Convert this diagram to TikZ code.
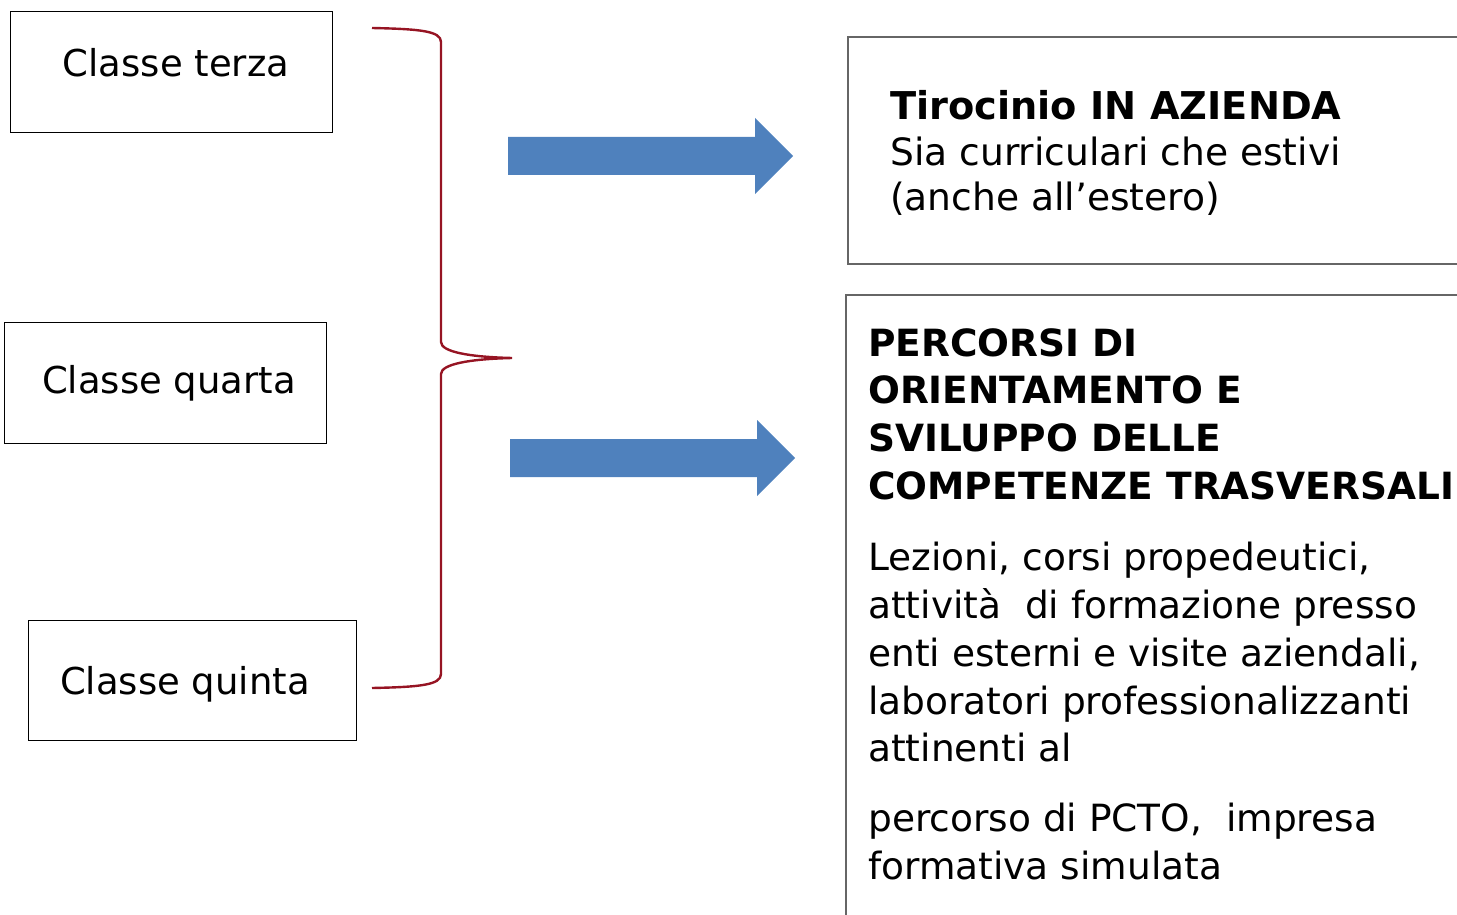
\documentclass[tikz,border=0pt]{standalone}
\usepackage{fontspec}
\setmainfont{DejaVu Sans}
\begin{document}
\begin{tikzpicture}[x=1pt,y=-1pt,
  lbox/.style={draw=black,line width=1pt},
  rbox/.style={draw=black!60,line width=1.3pt},
  brace/.style={draw={rgb,255:red,150;green,20;blue,35},line width=2.4pt},
  bigarrow/.style={fill={rgb,255:red,79;green,129;blue,189},draw=none},
  big/.style={font=\fontsize{37.5}{46}\selectfont,inner sep=0pt,anchor=base west},
  bigc/.style={font=\fontsize{37}{46}\selectfont,inner sep=0pt},
  bigb/.style={font=\fontsize{37.5}{46}\selectfont\bfseries,inner sep=0pt,anchor=base west},
  mid/.style={font=\fontsize{37.6}{44}\selectfont,inner sep=0pt,anchor=base west},
  midb/.style={font=\fontsize{38.3}{44}\selectfont\bfseries,inner sep=0pt,anchor=base west}]
\useasboundingbox (0,0) rectangle (1457,915);
% left boxes
\draw[lbox] (10,12) rectangle (332,133);
\node[bigc] (t3) at (176,63) {Classe terza};
\draw[lbox] (4,322) rectangle (326,443);
\node[bigc] (t4) at (169,383) {Classe quarta};
\draw[lbox] (28,620) rectangle (356,740);
\node[bigc] (t5) at (185,684) {Classe quinta};
% brace
\coordinate (bt) at (372,28);
\coordinate (tip) at (512,358);
\coordinate (bb) at (372,688);
\draw[brace] (bt) .. controls (420,29) and (441,31) .. (441,42) -- (441,342)
  .. controls (441,352) and (470,357) .. (tip)
  .. controls (470,359) and (441,364) .. (441,374) -- (441,674)
  .. controls (441,685) and (420,687) .. (bb);
% arrows
\fill[bigarrow] (508,137) -- (755,137) -- (755,118) -- (793,156) -- (755,194) -- (755,175) -- (508,175) -- cycle;
\fill[bigarrow] (510,439) -- (757,439) -- (757,420) -- (795,458) -- (757,496) -- (757,477) -- (510,477) -- cycle;
% right box 1
\draw[rbox] (1460,37) -- (848,37) -- (848,264) -- (1460,264);
\node[midb] (a1) at (890,120) {Tirocinio IN AZIENDA};
\node[mid] (a2) at (890,165) {Sia curriculari che estivi};
\node[mid] (a3) at (890,210) {(anche all’estero)};
% right box 2
\draw[rbox] (1460,295) -- (846,295) -- (846,918);
\node[bigb] (b1) at (868,356) {PERCORSI DI};
\node[bigb] (b2) at (868,403) {ORIENTAMENTO E};
\node[bigb] (b3) at (868,451) {SVILUPPO DELLE};
\node[bigb] (b4) at (868,499) {COMPETENZE TRASVERSALI};
\node[big] (c1) at (868,570) {Lezioni, corsi propedeutici,};
\node[big] (c2) at (868,618) {attività\ \ di formazione presso};
\node[big] (c3) at (868,666) {enti esterni e visite aziendali,};
\node[big] (c4) at (868,714) {laboratori professionalizzanti};
\node[big] (c5) at (868,761) {attinenti al};
\node[big] (d1) at (868,831) {percorso di PCTO,\ \ impresa};
\node[big] (d2) at (868,879) {formativa simulata};
\end{tikzpicture}
\end{document}
